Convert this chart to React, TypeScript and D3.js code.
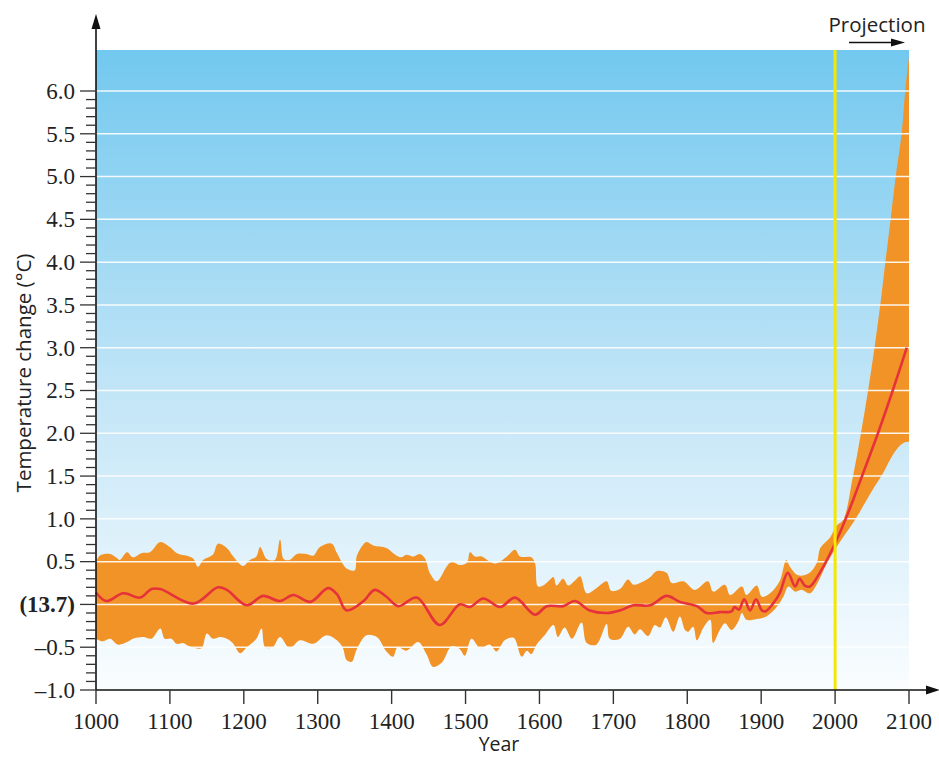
import React from "react";
import * as d3 from "d3";

// reconstructed temperature band (upper / lower edge) and mean, [year, °C anomaly]
const bandUpper: [number, number][] = [
  [1000, 0.5], [1005, 0.57], [1019, 0.59], [1027, 0.55], [1032, 0.52], [1042, 0.61], [1050, 0.55],
  [1062, 0.6], [1073, 0.61], [1087, 0.73], [1100, 0.67], [1109, 0.6], [1131, 0.54], [1138, 0.44],
  [1145, 0.52], [1158, 0.58], [1165, 0.71], [1177, 0.66], [1185, 0.57], [1199, 0.45], [1208, 0.52],
  [1217, 0.56], [1222, 0.67], [1231, 0.53], [1242, 0.52], [1249, 0.76], [1254, 0.53], [1262, 0.52],
  [1272, 0.59], [1285, 0.59], [1294, 0.57], [1303, 0.67], [1319, 0.71], [1326, 0.6], [1339, 0.42],
  [1350, 0.4], [1353, 0.57], [1366, 0.73], [1375, 0.69], [1393, 0.66], [1405, 0.58], [1413, 0.55],
  [1420, 0.58], [1429, 0.56], [1438, 0.59], [1445, 0.54], [1452, 0.36], [1461, 0.27], [1475, 0.45],
  [1481, 0.5], [1492, 0.46], [1502, 0.49], [1506, 0.61], [1513, 0.56], [1522, 0.56], [1533, 0.5],
  [1542, 0.48], [1556, 0.56], [1567, 0.64], [1574, 0.56], [1589, 0.55], [1594, 0.48], [1598, 0.21],
  [1605, 0.22], [1612, 0.27], [1619, 0.32], [1623, 0.22], [1632, 0.3], [1639, 0.22], [1648, 0.28],
  [1655, 0.33], [1664, 0.13], [1677, 0.19], [1691, 0.27], [1697, 0.16], [1709, 0.18], [1720, 0.29],
  [1727, 0.23], [1741, 0.27], [1750, 0.32], [1759, 0.39], [1772, 0.37], [1779, 0.25], [1795, 0.27],
  [1810, 0.17], [1828, 0.27], [1835, 0.15], [1851, 0.23], [1858, 0.11], [1874, 0.21], [1880, 0.11],
  [1894, 0.22], [1901, 0.09], [1912, 0.13], [1925, 0.27], [1934, 0.52], [1939, 0.44], [1950, 0.34],
  [1964, 0.36], [1975, 0.48], [1980, 0.66], [1993, 0.78], [2002, 0.92], [2011, 0.99], [2024, 1.49],
  [2035, 2.0], [2045, 2.52], [2054, 3.04], [2062, 3.56], [2068, 4.0], [2075, 4.49], [2082, 5.0],
  [2090, 5.5], [2095, 6.01], [2100, 6.4],
];

const bandLower: [number, number][] = [
  [1000, -0.4], [1009, -0.43], [1019, -0.4], [1030, -0.47], [1042, -0.44], [1050, -0.4], [1064, -0.38],
  [1075, -0.4], [1087, -0.28], [1093, -0.4], [1102, -0.4], [1109, -0.46], [1118, -0.45], [1124, -0.48],
  [1134, -0.51], [1143, -0.51], [1150, -0.34], [1158, -0.4], [1168, -0.38], [1177, -0.4], [1185, -0.45],
  [1195, -0.57], [1204, -0.5], [1217, -0.4], [1224, -0.28], [1229, -0.5], [1239, -0.5], [1249, -0.38],
  [1262, -0.51], [1276, -0.42], [1294, -0.46], [1312, -0.36], [1326, -0.42], [1334, -0.51], [1339, -0.65],
  [1346, -0.67], [1353, -0.52], [1366, -0.36], [1380, -0.38], [1393, -0.55], [1402, -0.61], [1408, -0.5],
  [1420, -0.54], [1436, -0.44], [1447, -0.58], [1456, -0.73], [1468, -0.68], [1481, -0.49], [1492, -0.52],
  [1499, -0.6], [1508, -0.4], [1520, -0.51], [1533, -0.47], [1542, -0.55], [1553, -0.42], [1565, -0.39],
  [1576, -0.61], [1583, -0.54], [1589, -0.58], [1596, -0.47], [1607, -0.36], [1619, -0.24], [1625, -0.38],
  [1634, -0.27], [1644, -0.4], [1657, -0.21], [1664, -0.45], [1677, -0.47], [1691, -0.23], [1695, -0.4],
  [1709, -0.4], [1720, -0.26], [1729, -0.35], [1736, -0.29], [1747, -0.37], [1756, -0.24], [1763, -0.27],
  [1771, -0.15], [1781, -0.32], [1790, -0.14], [1797, -0.3], [1801, -0.32], [1808, -0.26], [1813, -0.42],
  [1822, -0.27], [1831, -0.18], [1835, -0.45], [1844, -0.3], [1851, -0.22], [1860, -0.3], [1869, -0.2],
  [1874, -0.1], [1880, -0.18], [1894, -0.17], [1907, -0.14], [1921, -0.03], [1930, 0.09], [1937, 0.21],
  [1946, 0.15], [1955, 0.17], [1966, 0.13], [1975, 0.23], [1989, 0.48], [2002, 0.67], [2027, 0.99],
  [2048, 1.3], [2064, 1.52], [2075, 1.7], [2085, 1.83], [2093, 1.89], [2100, 1.9],
];

const meanLine: [number, number][] = [
  [1000, 0.14], [1014, 0.04], [1037, 0.13], [1060, 0.08], [1075, 0.18], [1087, 0.18], [1132, 0.01],
  [1165, 0.2], [1177, 0.17], [1204, -0.01], [1226, 0.1], [1249, 0.04], [1267, 0.11], [1290, 0.03],
  [1314, 0.19], [1326, 0.12], [1339, -0.07], [1362, 0.04], [1377, 0.17], [1393, 0.09], [1409, -0.02],
  [1434, 0.08], [1465, -0.24], [1492, 0.0], [1506, -0.03], [1524, 0.07], [1547, -0.03], [1567, 0.08],
  [1594, -0.12], [1610, -0.02], [1632, -0.02], [1648, 0.04], [1668, -0.07], [1691, -0.1], [1709, -0.07],
  [1727, -0.01], [1750, -0.01], [1772, 0.1], [1790, 0.03], [1813, -0.02], [1826, -0.1], [1844, -0.09],
  [1860, -0.08], [1864, -0.03], [1870, -0.06], [1877, 0.06], [1885, -0.07], [1893, 0.06], [1901, -0.07],
  [1906, -0.08], [1916, 0.01], [1925, 0.13], [1936, 0.37], [1946, 0.21], [1952, 0.3], [1959, 0.22],
  [1966, 0.21], [1980, 0.38], [2002, 0.75], [2019, 1.1], [2036, 1.49], [2058, 2.0], [2078, 2.5],
  [2097, 3.0],
];

const xTicks = [1000, 1100, 1200, 1300, 1400, 1500, 1600, 1700, 1800, 1900, 2000, 2100];
const yMajor = [-1, -0.5, 0, 0.5, 1, 1.5, 2, 2.5, 3, 3.5, 4, 4.5, 5, 5.5, 6];
const yLabels = ["–1.0", "–0.5", "(13.7)", "0.5", "1.0", "1.5", "2.0", "2.5", "3.0", "3.5", "4.0", "4.5", "5.0", "5.5", "6.0"];
const projectionYear = 2000;

export default function App() {
  const W = 939;
  const H = 757;
  const x = d3.scaleLinear().domain([1000, 2100]).range([96, 909]);
  const y = d3.scaleLinear().domain([-1, 6]).range([690, 91]);
  const plotTop = 50;

  const line = d3
    .line<[number, number]>()
    .x((d) => x(d[0]))
    .y((d) => y(d[1]))
    .curve(d3.curveCatmullRom.alpha(0.5));

  const upperPath = line(bandUpper) as string;
  const lowerPath = line(bandLower.slice().reverse()) as string;
  const bandPath = upperPath + "L" + lowerPath.slice(1) + "Z";

  const minorTicks = d3.range(0, 71).map((i) => -1 + i * 0.1);
  const grid = yMajor.filter((v) => v > -1);

  const serif = "'Liberation Serif', 'Times New Roman', serif";
  const sans = "'Open Sans', 'Noto Sans', sans-serif";

  return (
    <svg width={W} height={H} style={{ position: "absolute", left: 0, top: 0 }}>
      <defs>
        <linearGradient id="sky" x1="0" y1="0" x2="0" y2="1">
          <stop offset="0%" stopColor="#72C8EF" />
          <stop offset="55%" stopColor="#C4E6F7" />
          <stop offset="100%" stopColor="#FAFDFF" />
        </linearGradient>
      </defs>
      <rect x={x(1000)} y={plotTop} width={x(2100) - x(1000)} height={y(-1) - plotTop} fill="url(#sky)" />

      {/* uncertainty band and mean */}
      <path d={bandPath} fill="#F29328" />
      {grid.map((v) => (
        <line key={v} x1={x(1000)} x2={x(2100)} y1={y(v)} y2={y(v)} stroke="#fff" strokeWidth={1.5} opacity={0.9} />
      ))}
      <path d={line(meanLine) as string} fill="none" stroke="#E6323A" strokeWidth={2.6} />

      {/* 2000 marker */}
      <line x1={x(projectionYear)} x2={x(projectionYear)} y1={plotTop} y2={y(-1)} stroke="#F4E800" strokeWidth={3} />

      {/* y axis */}
      <line x1={96} x2={96} y1={y(-1)} y2={24} stroke="#111" strokeWidth={1.6} />
      <path d="M96,14 L91.5,29 L100.5,29 Z" fill="#111" />
      {minorTicks.map((v, i) => (
        <line key={i} x1={i % 5 === 0 ? 80 : 86} x2={96} y1={y(v)} y2={y(v)} stroke="#333" strokeWidth={1.3} />
      ))}
      {yMajor.map((v, i) => (
        <text
          key={v}
          x={75}
          y={y(v)}
          dy="0.34em"
          textAnchor="end"
          fontFamily={serif}
          fontSize={23}
          fontWeight={v === 0 ? "bold" : "normal"}
          fill="#222"
        >
          {yLabels[i]}
        </text>
      ))}

      {/* x axis */}
      <line x1={96} x2={928} y1={y(-1)} y2={y(-1)} stroke="#111" strokeWidth={1.6} />
      <path d="M940,690 L926,685.5 L926,694.5 Z" fill="#111" />
      {xTicks.map((t) => (
        <g key={t}>
          <line x1={x(t)} x2={x(t)} y1={y(-1)} y2={y(-1) + 14} stroke="#333" strokeWidth={1.4} />
          <text x={x(t)} y={729} textAnchor="middle" fontFamily={serif} fontSize={23} fill="#222">
            {t}
          </text>
        </g>
      ))}

      <text x={499} y={751} textAnchor="middle" fontFamily={sans} fontSize={19.5} fill="#222">
        Year
      </text>
      <text
        transform="translate(31,373) rotate(-90)"
        textAnchor="middle"
        fontFamily={sans}
        fontSize={20.5}
        fill="#222"
      >
        Temperature change (°C)
      </text>

      {/* projection label */}
      <text x={877} y={32} textAnchor="middle" fontFamily={sans} fontSize={20.5} fill="#222">
        Projection
      </text>
      <line x1={849} x2={893} y1={42.5} y2={42.5} stroke="#111" strokeWidth={1.5} />
      <path d="M905,42.5 L891,38.5 L891,46.5 Z" fill="#111" />
    </svg>
  );
}
